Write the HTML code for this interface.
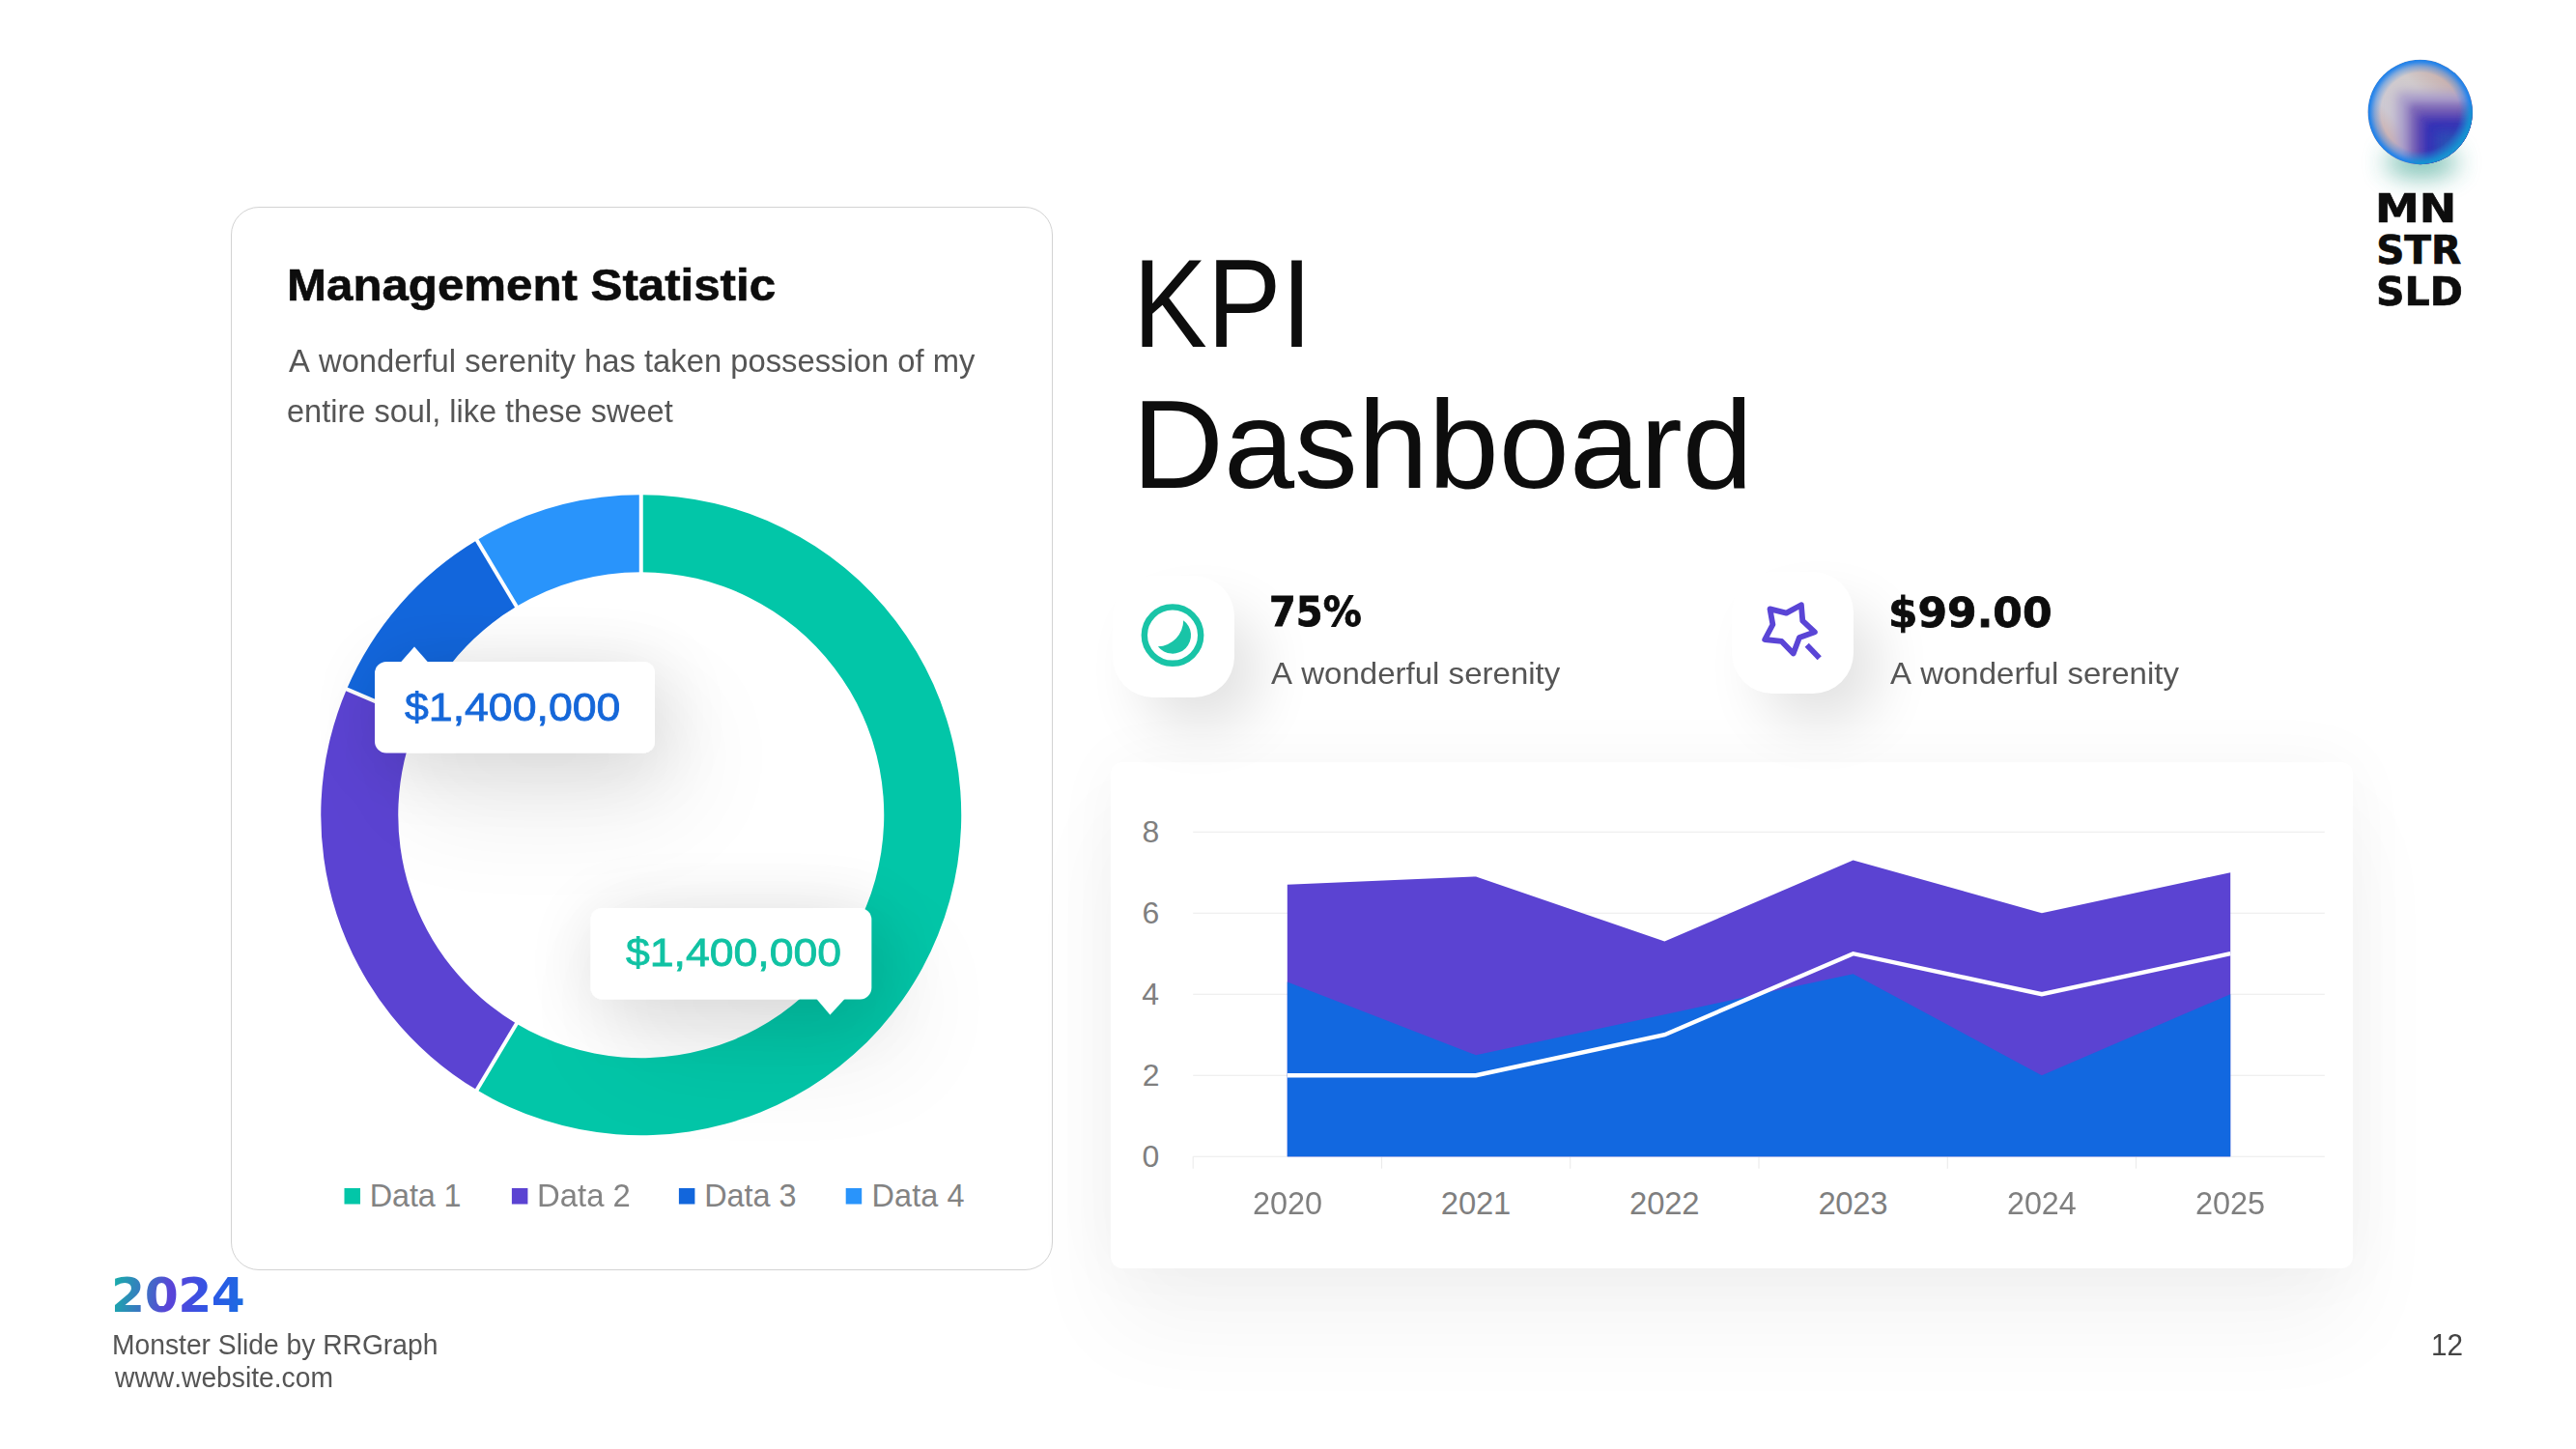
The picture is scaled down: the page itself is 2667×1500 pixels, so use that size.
<!DOCTYPE html>
<html lang="en">
<head>
<meta charset="utf-8">
<title>KPI Dashboard</title>
<style>
html,body{margin:0;padding:0;background:#fff;}
body{width:2667px;height:1500px;position:relative;overflow:hidden;font-family:"Liberation Sans",sans-serif;font-kerning:none;-webkit-font-smoothing:antialiased;}
.t{position:absolute;white-space:pre;margin:0;padding:0;}
.abs{position:absolute;}
.card{position:absolute;left:239px;top:214px;width:851px;height:1101px;box-sizing:border-box;border:1.3px solid #d3d3d3;border-radius:29px;background:#fff;}
.chartcard{position:absolute;left:1150px;top:789px;width:1286px;height:524px;border-radius:12px;background:#fff;box-shadow:0 62px 100px rgba(0,0,0,0.042),0 0 70px rgba(0,0,0,0.038);}
.tile{position:absolute;width:126px;height:126px;border-radius:42px;background:#fff;box-shadow:28px 34px 60px -6px rgba(0,0,0,0.12);}
.tip{position:absolute;background:#fff;border-radius:12px;}
svg{position:absolute;left:0;top:0;overflow:visible;}
.grad{background:linear-gradient(100deg,#12b7a6 0%,#5a43d8 45%,#2b58e6 75%,#1a6fe0 100%);-webkit-background-clip:text;background-clip:text;color:transparent !important;}
</style>
</head>
<body>

<section class="card"></section>
<h2 class="t" style="left:297.11px;top:269.28px;font-family:'Liberation Sans', sans-serif;font-weight:700;font-size:45.35px;line-height:53px;letter-spacing:0.000px;color:#0d0d0d;transform:scaleX(1.0856);transform-origin:0 0;-webkit-text-stroke:0.6px #0d0d0d;">Management Statistic</h2>
<p class="t" style="left:298.94px;top:352.91px;font-family:'Liberation Sans', sans-serif;font-weight:400;font-size:33.72px;line-height:40px;letter-spacing:0.000px;color:#555555;transform:scaleX(0.9719);transform-origin:0 0;">A wonderful serenity has taken possession of my</p>
<p class="t" style="left:297.22px;top:405.01px;font-family:'Liberation Sans', sans-serif;font-weight:400;font-size:33.72px;line-height:40px;letter-spacing:0.000px;color:#555555;transform:scaleX(0.9650);transform-origin:0 0;">entire soul, like these sweet</p>
<section class="chartcard"></section>
<div class="tile" style="left:1152px;top:596px;"></div>
<div class="tile" style="left:1793px;top:592px;"></div>
<svg width="2667" height="1500" viewBox="0 0 2667 1500">
<defs>
<clipPath id="sc"><circle cx="2505.7" cy="116.0" r="54.2"/></clipPath>
<filter id="bsh" x="-100%" y="-100%" width="300%" height="300%"><feGaussianBlur stdDeviation="13"/></filter>
<filter id="b6" x="-50%" y="-50%" width="200%" height="200%"><feGaussianBlur stdDeviation="6"/></filter>
<linearGradient id="beige" x1="0" y1="1" x2="1" y2="0"><stop offset="0.1" stop-color="#cb9c94"/><stop offset="0.35" stop-color="#cdc9d2"/><stop offset="0.6" stop-color="#d1cbcc"/><stop offset="0.9" stop-color="#c39f9a"/></linearGradient>
<radialGradient id="rim" cx="50%" cy="50%" r="50%"><stop offset="0.75" stop-color="#2a86ee" stop-opacity="0"/><stop offset="0.87" stop-color="#2a86ee" stop-opacity="0.45"/><stop offset="0.96" stop-color="#2384ec" stop-opacity="0.95"/><stop offset="1" stop-color="#1f7fe6" stop-opacity="1"/></radialGradient>

<filter id="lb0" x="-50%" y="-50%" width="200%" height="200%"><feGaussianBlur stdDeviation="5.5"/></filter>
<filter id="lb1" x="-50%" y="-50%" width="200%" height="200%"><feGaussianBlur stdDeviation="4.5"/></filter>
<filter id="lb2" x="-50%" y="-50%" width="200%" height="200%"><feGaussianBlur stdDeviation="4"/></filter>
<filter id="lb3" x="-50%" y="-50%" width="200%" height="200%"><feGaussianBlur stdDeviation="3.2"/></filter>
<filter id="lb4" x="-50%" y="-50%" width="200%" height="200%"><feGaussianBlur stdDeviation="6"/></filter>
</defs>
<ellipse cx="2507" cy="168" rx="38" ry="16" fill="#2f9c88" opacity="0.62" filter="url(#bsh)"/>
<circle cx="2505.7" cy="116.0" r="54.2" fill="url(#beige)"/>
<g clip-path="url(#sc)">
<rect x="2481.5" y="95.4" width="90" height="90" fill="#aa9fcb" filter="url(#lb0)"/>
<rect x="2493.6" y="107.0" width="90" height="90" fill="#7d66b6" filter="url(#lb1)"/>
<rect x="2502.8" y="117.6" width="90" height="90" fill="#5141b4" filter="url(#lb2)"/>
<rect x="2511.0" y="125.8" width="90" height="90" fill="#3631b6" filter="url(#lb3)"/>
<rect x="2523.1" y="137.0" width="90" height="90" fill="#2a4fb6" filter="url(#lb4)"/>
<circle cx="2505.7" cy="116.0" r="54.2" fill="url(#rim)"/>
<path d="M2559.5 111.3 A54 54 0 0 1 2496.3 169.2" fill="none" stroke="#0fa9ae" stroke-width="7" filter="url(#b6)" opacity="0.85"/>
</g></svg>
<svg width="2667" height="1500" viewBox="0 0 2667 1500">
<defs>
<filter id="dsh" x="-20%" y="-20%" width="150%" height="150%"><feGaussianBlur in="SourceAlpha" stdDeviation="30"/><feOffset dx="12" dy="16"/><feComponentTransfer><feFuncA type="linear" slope="0.085"/></feComponentTransfer><feMerge><feMergeNode/><feMergeNode in="SourceGraphic"/></feMerge></filter>
<filter id="tsh" x="-90%" y="-250%" width="300%" height="700%"><feGaussianBlur in="SourceAlpha" stdDeviation="38" result="b1"/><feOffset in="b1" dx="6" dy="10" result="o1"/><feComponentTransfer in="o1" result="s1"><feFuncA type="linear" slope="0.135"/></feComponentTransfer><feGaussianBlur in="SourceAlpha" stdDeviation="60" result="b2"/><feOffset in="b2" dx="30" dy="50" result="o2"/><feComponentTransfer in="o2" result="s2"><feFuncA type="linear" slope="0.09"/></feComponentTransfer><feMerge><feMergeNode in="s2"/><feMergeNode in="s1"/><feMergeNode in="SourceGraphic"/></feMerge></filter>
</defs>
<g>
<path d="M663.75 512.25 A331.5 331.5 0 1 1 493.72 1128.33 L534.76 1059.65 A251.5 251.5 0 1 0 663.75 592.25 Z" fill="#02C6A8"/>
<path d="M493.72 1128.33 A331.5 331.5 0 0 1 358.93 713.46 L432.49 744.90 A251.5 251.5 0 0 0 534.76 1059.65 Z" fill="#5B43D2"/>
<path d="M358.93 713.46 A331.5 331.5 0 0 1 493.72 559.17 L534.76 627.85 A251.5 251.5 0 0 0 432.49 744.90 Z" fill="#1266DC"/>
<path d="M493.72 559.17 A331.5 331.5 0 0 1 663.75 512.25 L663.75 592.25 A251.5 251.5 0 0 0 534.76 627.85 Z" fill="#2994FB"/>
</g>
<line x1="663.75" y1="594.25" x2="663.75" y2="510.25" stroke="#fff" stroke-width="4"/>
<line x1="535.78" y1="1057.93" x2="492.70" y2="1130.04" stroke="#fff" stroke-width="4"/>
<line x1="434.33" y1="745.69" x2="357.09" y2="712.68" stroke="#fff" stroke-width="4"/>
<line x1="535.78" y1="629.57" x2="492.70" y2="557.46" stroke="#fff" stroke-width="4"/>
<g filter="url(#tsh)"><rect x="388" y="685" width="290" height="94.5" rx="12" fill="#fff"/><path d="M414.5 686 L429 669.5 L443.5 686 Z" fill="#fff"/></g>
<g filter="url(#tsh)"><rect x="611.6" y="940" width="290.69999999999993" height="94.5" rx="12" fill="#fff"/><path d="M845 1033.5 L859.4 1050.4 L875 1033.5 Z" fill="#fff"/></g>
<rect x="356.5" y="1230" width="16.5" height="16.5" fill="#02C6A8"/>
<rect x="529.9" y="1230" width="16.5" height="16.5" fill="#5B43D2"/>
<rect x="702.9" y="1230" width="16.5" height="16.5" fill="#1266DC"/>
<rect x="875.7" y="1230" width="16.5" height="16.5" fill="#2994FB"/>
<circle cx="1214" cy="657.6" r="29.2" fill="none" stroke="#19C4A7" stroke-width="6.4"/>
<path d="M1225.2 642.2 A19.04 19.04 0 1 1 1198.9 669.2 A27.05 27.05 0 0 0 1225.2 642.2 Z" fill="#19C4A7"/>
<path d="M1864.9 626.2 L1849.4 634.6 L1832.5 630.4 L1835.4 646.5 L1827.2 662.0 L1844.6 663.9 L1856.7 676.5 L1862.9 660.0 L1878.9 654.3 L1866.3 642.7 Z" fill="none" stroke="#5A45D6" stroke-width="5.8" stroke-linejoin="round"/>
<path d="M1870.7 667.8 L1883.7 681.3" stroke="#5A45D6" stroke-width="5.8" fill="none"/>
<line x1="1235.2" y1="1197.2" x2="2406.8" y2="1197.2" stroke="#ebebeb" stroke-width="1.1"/>
<line x1="1235.2" y1="1113.2" x2="2406.8" y2="1113.2" stroke="#ebebeb" stroke-width="1.1"/>
<line x1="1235.2" y1="1029.2" x2="2406.8" y2="1029.2" stroke="#ebebeb" stroke-width="1.1"/>
<line x1="1235.2" y1="945.2" x2="2406.8" y2="945.2" stroke="#ebebeb" stroke-width="1.1"/>
<line x1="1235.2" y1="861.2" x2="2406.8" y2="861.2" stroke="#ebebeb" stroke-width="1.1"/>
<line x1="1235.2" y1="1197.2" x2="1235.2" y2="1209.7" stroke="#ebebeb" stroke-width="1.1"/>
<line x1="1430.5" y1="1197.2" x2="1430.5" y2="1209.7" stroke="#ebebeb" stroke-width="1.1"/>
<line x1="1625.7" y1="1197.2" x2="1625.7" y2="1209.7" stroke="#ebebeb" stroke-width="1.1"/>
<line x1="1821.0" y1="1197.2" x2="1821.0" y2="1209.7" stroke="#ebebeb" stroke-width="1.1"/>
<line x1="2016.3" y1="1197.2" x2="2016.3" y2="1209.7" stroke="#ebebeb" stroke-width="1.1"/>
<line x1="2211.5" y1="1197.2" x2="2211.5" y2="1209.7" stroke="#ebebeb" stroke-width="1.1"/>
<polygon points="1332.8,1197.2 1332.8,915.8 1528.1,907.4 1723.4,974.6 1918.6,890.6 2113.9,945.2 2309.2,903.2 2309.2,1197.2" fill="#5B43D2"/>
<polygon points="1332.8,1197.2 1332.8,1016.6 1528.1,1092.2 1723.4,1050.2 1918.6,1008.2 2113.9,1113.2 2309.2,1029.2 2309.2,1197.2" fill="#1268E0"/>
<polyline points="1332.8,1113.2 1528.1,1113.2 1723.4,1071.2 1918.6,987.2 2113.9,1029.2 2309.2,987.2" fill="none" stroke="#fff" stroke-width="4.4" stroke-linejoin="miter"/>
</svg>
<div class="t" style="left:418.92px;top:707.74px;font-family:'Liberation Sans', sans-serif;font-weight:400;font-size:41.13px;line-height:48px;letter-spacing:0.000px;color:#1567D9;transform:scaleX(1.0852);transform-origin:0 0;-webkit-text-stroke:0.8px #1567D9;">$1,400,000</div>
<div class="t" style="left:648.22px;top:962.04px;font-family:'Liberation Sans', sans-serif;font-weight:400;font-size:41.13px;line-height:48px;letter-spacing:0.000px;color:#10C2A3;transform:scaleX(1.0838);transform-origin:0 0;-webkit-text-stroke:0.8px #10C2A3;">$1,400,000</div>
<div class="t" style="left:382.84px;top:1218.86px;font-family:'Liberation Sans', sans-serif;font-weight:400;font-size:32.41px;line-height:39px;letter-spacing:-0.171px;color:#838383;">Data 1</div>
<div class="t" style="left:556.10px;top:1218.86px;font-family:'Liberation Sans', sans-serif;font-weight:400;font-size:32.41px;line-height:39px;letter-spacing:0.000px;color:#838383;transform:scaleX(1.0141);transform-origin:0 0;">Data 2</div>
<div class="t" style="left:729.24px;top:1218.86px;font-family:'Liberation Sans', sans-serif;font-weight:400;font-size:32.41px;line-height:39px;letter-spacing:-0.023px;color:#838383;">Data 3</div>
<div class="t" style="left:902.54px;top:1218.86px;font-family:'Liberation Sans', sans-serif;font-weight:400;font-size:32.41px;line-height:39px;letter-spacing:0.122px;color:#838383;">Data 4</div>
<h1 class="t" style="left:1173.36px;top:240.85px;font-family:'Liberation Sans', sans-serif;font-weight:400;font-size:129.07px;line-height:147px;letter-spacing:0.000px;color:#0d0d0d;transform:scaleX(0.8919);transform-origin:0 0;">KPI</h1>
<h1 class="t" style="left:1172.02px;top:387.45px;font-family:'Liberation Sans', sans-serif;font-weight:400;font-size:129.07px;line-height:147px;letter-spacing:0.000px;color:#0d0d0d;transform:scaleX(1.0181);transform-origin:0 0;">Dashboard</h1>
<div class="t" style="left:1314.12px;top:608.28px;font-family:'DejaVu Sans', sans-serif;font-weight:700;font-size:42.52px;line-height:52px;letter-spacing:0.000px;color:#0d0d0d;transform:scaleX(0.9407);transform-origin:0 0;-webkit-text-stroke:0.8px #0d0d0d;">75%</div>
<div class="t" style="left:1955.17px;top:609.02px;font-family:'DejaVu Sans', sans-serif;font-weight:700;font-size:41.82px;line-height:51px;letter-spacing:0.000px;color:#0d0d0d;transform:scaleX(1.0505);transform-origin:0 0;-webkit-text-stroke:0.8px #0d0d0d;">$99.00</div>
<div class="t" style="left:1316.34px;top:677.76px;font-family:'Liberation Sans', sans-serif;font-weight:400;font-size:32.12px;line-height:38px;letter-spacing:0.000px;color:#555555;transform:scaleX(1.0288);transform-origin:0 0;">A wonderful serenity</div>
<div class="t" style="left:1957.44px;top:677.76px;font-family:'Liberation Sans', sans-serif;font-weight:400;font-size:32.12px;line-height:38px;letter-spacing:0.000px;color:#555555;transform:scaleX(1.0275);transform-origin:0 0;">A wonderful serenity</div>
<div class="t" style="left:1182.46px;top:1178.31px;font-family:'Liberation Sans', sans-serif;font-weight:400;font-size:31.98px;line-height:38px;letter-spacing:0.000px;color:#7f7f7f;">0</div>
<div class="t" style="left:1182.82px;top:1094.31px;font-family:'Liberation Sans', sans-serif;font-weight:400;font-size:31.98px;line-height:38px;letter-spacing:0.000px;color:#7f7f7f;">2</div>
<div class="t" style="left:1182.15px;top:1010.31px;font-family:'Liberation Sans', sans-serif;font-weight:400;font-size:31.98px;line-height:38px;letter-spacing:0.000px;color:#7f7f7f;">4</div>
<div class="t" style="left:1182.62px;top:926.31px;font-family:'Liberation Sans', sans-serif;font-weight:400;font-size:31.98px;line-height:38px;letter-spacing:0.000px;color:#7f7f7f;">6</div>
<div class="t" style="left:1182.61px;top:842.31px;font-family:'Liberation Sans', sans-serif;font-weight:400;font-size:31.98px;line-height:38px;letter-spacing:0.000px;color:#7f7f7f;">8</div>
<div class="t" style="left:1296.60px;top:1226.31px;font-family:'Liberation Sans', sans-serif;font-weight:400;font-size:32.85px;line-height:39px;letter-spacing:0.000px;color:#7f7f7f;transform:scaleX(0.9866);transform-origin:0 0;">2020</div>
<div class="t" style="left:1491.85px;top:1226.31px;font-family:'Liberation Sans', sans-serif;font-weight:400;font-size:32.85px;line-height:39px;letter-spacing:-0.207px;color:#7f7f7f;">2021</div>
<div class="t" style="left:1687.11px;top:1226.31px;font-family:'Liberation Sans', sans-serif;font-weight:400;font-size:32.85px;line-height:39px;letter-spacing:-0.191px;color:#7f7f7f;">2022</div>
<div class="t" style="left:1882.38px;top:1226.31px;font-family:'Liberation Sans', sans-serif;font-weight:400;font-size:32.85px;line-height:39px;letter-spacing:-0.260px;color:#7f7f7f;">2023</div>
<div class="t" style="left:2077.68px;top:1226.31px;font-family:'Liberation Sans', sans-serif;font-weight:400;font-size:32.85px;line-height:39px;letter-spacing:0.000px;color:#7f7f7f;transform:scaleX(0.9821);transform-origin:0 0;">2024</div>
<div class="t" style="left:2272.93px;top:1226.31px;font-family:'Liberation Sans', sans-serif;font-weight:400;font-size:32.85px;line-height:39px;letter-spacing:0.000px;color:#7f7f7f;transform:scaleX(0.9879);transform-origin:0 0;">2025</div>
<div class="t" style="left:2458.87px;top:190.94px;font-family:'DejaVu Sans', sans-serif;font-weight:700;font-size:40.60px;line-height:50px;letter-spacing:0.000px;color:#0d0d0d;transform:scaleX(1.1340);transform-origin:0 0;-webkit-text-stroke:0.7px #0d0d0d;">MN</div>
<div class="t" style="left:2460.19px;top:234.34px;font-family:'DejaVu Sans', sans-serif;font-weight:700;font-size:40.60px;line-height:50px;letter-spacing:-0.089px;color:#0d0d0d;-webkit-text-stroke:0.7px #0d0d0d;">STR</div>
<div class="t" style="left:2460.15px;top:276.84px;font-family:'DejaVu Sans', sans-serif;font-weight:700;font-size:40.60px;line-height:50px;letter-spacing:0.000px;color:#0d0d0d;transform:scaleX(1.0133);transform-origin:0 0;-webkit-text-stroke:0.7px #0d0d0d;">SLD</div>
<div class="t grad" style="left:115.11px;top:1309.55px;font-family:'DejaVu Sans', sans-serif;font-weight:700;font-size:50.39px;line-height:61px;letter-spacing:-0.517px;color:#3355dd;">2024</div>
<div class="t" style="left:116.38px;top:1374.62px;font-family:'Liberation Sans', sans-serif;font-weight:400;font-size:29.07px;line-height:35px;letter-spacing:0.000px;color:#555555;transform:scaleX(0.9715);transform-origin:0 0;">Monster Slide by RRGraph</div>
<div class="t" style="left:118.54px;top:1408.92px;font-family:'Liberation Sans', sans-serif;font-weight:400;font-size:29.07px;line-height:35px;letter-spacing:0.000px;color:#555555;transform:scaleX(0.9716);transform-origin:0 0;">www.website.com</div>
<div class="t" style="left:2516.54px;top:1373.41px;font-family:'Liberation Sans', sans-serif;font-weight:400;font-size:32.27px;line-height:39px;letter-spacing:0.000px;color:#444;transform:scaleX(0.9211);transform-origin:0 0;">12</div>
</body></html>
